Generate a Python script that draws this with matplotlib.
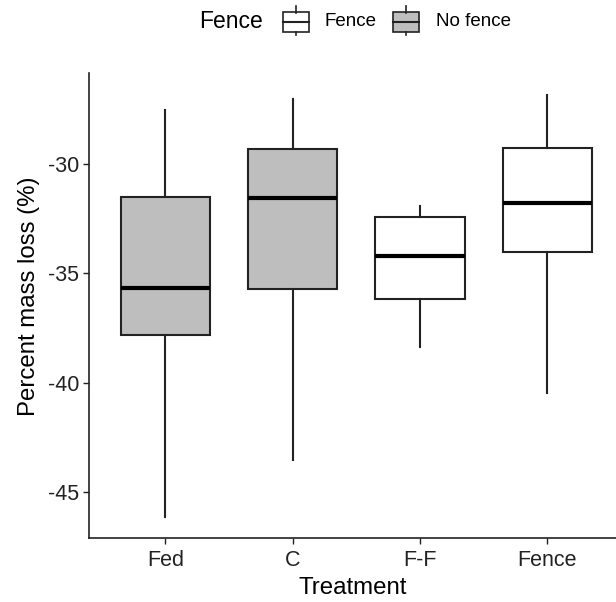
import matplotlib
matplotlib.use("Agg")
import matplotlib.pyplot as plt
from matplotlib.patches import Rectangle
from matplotlib.lines import Line2D

# 箱线图统计量
treatments = ["Fed", "C", "F-F", "Fence"]
fence = ["No fence", "No fence", "Fence", "Fence"]
whislo = [-46.15, -43.53, -38.39, -40.49]
q1 = [-37.84, -35.71, -36.17, -34.04]
med = [-35.69, -31.58, -34.21, -31.80]
q3 = [-31.54, -29.33, -32.44, -29.27]
whishi = [-27.55, -27.06, -31.94, -26.87]
yticks = [-30, -35, -40, -45]

fill = {"Fence": "white", "No fence": "#BEBEBE"}

plt.rcParams['font.family'] = ['Liberation Sans', 'DejaVu Sans']
plt.rcParams['axes.unicode_minus'] = False

W, H = 616, 602
fig = plt.figure(figsize=(W / 100, H / 100), dpi=100)
ax = fig.add_axes([89 / W, (H - 538) / H, 527 / W, (538 - 73) / H])

stats = []
for i, t in enumerate(treatments):
    stats.append(dict(label=t, whislo=whislo[i], q1=q1[i], med=med[i],
                      q3=q3[i], whishi=whishi[i], fliers=[]))

bp = ax.bxp(stats, positions=range(1, 5), widths=0.7, patch_artist=True,
            showcaps=False,
            boxprops=dict(linewidth=1.5, edgecolor="#222222"),
            whiskerprops=dict(linewidth=1.5, color="#222222"),
            medianprops=dict(linewidth=3, color="black"))
for patch, f in zip(bp["boxes"], fence):
    patch.set_facecolor(fill[f])

ax.set_xlim(0.4, 0.4 + 527 / 127.3)
ax.set_ylim(-47.09, -25.86)
ax.set_yticks(yticks)
ax.set_xticks(range(1, 5))
ax.set_xticklabels(treatments)
ax.tick_params(labelsize=15.5, length=4, width=1, colors="#222222",
               labelcolor="#222222", pad=3)
ax.tick_params(axis="x", pad=5)
ax.spines['right'].set_visible(False)
ax.spines['top'].set_visible(False)
for s in ["left", "bottom"]:
    ax.spines[s].set_linewidth(1.2)
    ax.spines[s].set_color("#222222")

ax.set_xlabel("Treatment", fontsize=17.3, labelpad=4)
ax.set_ylabel("Percent mass loss (%)", fontsize=17.3)
ax.yaxis.set_label_coords(-0.093, 0.52)

# 顶部图例（手动绘制）
fig.text(199 / W, 1 - 22 / H, "Fence", fontsize=16.5, va="center", ha="left")

def legend_key(x0, f):
    # 箱体
    fig.patches.append(Rectangle((x0 / W, 1 - 31.5 / H), 26 / W, 19 / H,
                                 transform=fig.transFigure, facecolor=fill[f],
                                 edgecolor="#222222", linewidth=1.2))
    xc = (x0 + 13) / W
    fig.lines.append(Line2D([xc, xc], [1 - 6 / H, 1 - 12.5 / H],
                            transform=fig.transFigure, color="#222222", lw=1.2))
    fig.lines.append(Line2D([xc, xc], [1 - 31.5 / H, 1 - 35 / H],
                            transform=fig.transFigure, color="#222222", lw=1.2))
    fig.lines.append(Line2D([x0 / W, (x0 + 26) / W], [1 - 22 / H, 1 - 22 / H],
                            transform=fig.transFigure, color="#222222", lw=1.5))

legend_key(282.5, "Fence")
fig.text(325 / W, 1 - 22 / H, "Fence", fontsize=13.5, va="center", ha="left")
legend_key(393, "No fence")
fig.text(436 / W, 1 - 22 / H, "No fence", fontsize=13.5, va="center", ha="left")

fig.savefig("out.png", dpi=100)
